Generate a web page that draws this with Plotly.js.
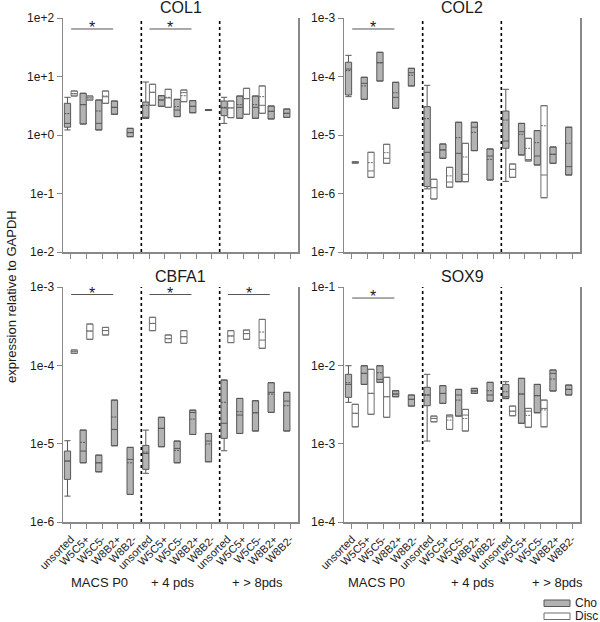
<!DOCTYPE html>
<html><head><meta charset="utf-8">
<script src="https://cdn.plot.ly/plotly-3.0.1.min.js"></script>
<style>html,body{margin:0;padding:0;background:#fff}#chart{width:600px;height:622px}</style>
</head><body><div id="chart"></div><script>
const categories = ['unsorted','W5C5+','W5C5-','W8B2+','W8B2-'];
const groupLabels = ['MACS P0','+ 4 pds','+ > 8pds'];
const panelTitles = ['COL1','COL2','CBFA1','SOX9'];
const seriesNames = ['Cho','Disc'];
const choX = [0,1,2,3,4,5,6,7,8,9,10,11,12,13,14];
const discX = [0,1,2,5,6,7,10,11,12];

// rows: [lower whisker, q1, median, q3, upper whisker, mean]
const col1Cho = [
 [1.22,1.36,1.58,3.48,4.41,2.32],[1.54,1.54,3.3,5.16,5.16,3.3],[1.22,1.22,1.58,3.96,3.96,2.57],
 [2.26,2.26,2.97,3.81,3.81,2.97],[0.935,0.935,1.1,1.30,1.30,1.1],
 [1.93,1.93,1.95,3.66,8.05,3.22],[3.09,3.09,3.96,4.7,4.7,3.96],[2.06,2.06,2.67,4.07,4.07,3.05],
 [2.4,2.4,3.09,3.87,3.87,3.09],[2.62,2.62,2.67,2.72,2.72,2.67],
 [1.58,2.14,2.9,3.81,4.41,2.97],[1.93,1.93,2.97,4.64,4.64,3.3],[1.93,1.93,2.97,4.64,4.64,3.3],
 [1.88,1.88,2.54,3.13,3.13,2.54],[2.0,2.0,2.35,2.78,2.78,2.35]];
const col1Disc = [
 [4.64,4.64,5.08,5.65,5.65,5.08],[3.96,3.96,4.3,4.64,4.64,4.3],[3.48,3.48,4.5,5.65,5.65,4.64],
 [3.22,3.22,5.37,7.36,7.36,5.37],[2.97,2.97,4.3,6.04,6.04,4.41],[3.71,3.71,5.3,5.87,5.87,4.7],
 [1.98,1.98,2.9,3.81,3.81,2.9],[2.26,2.26,4.17,6.28,6.28,4.2],[2.35,2.35,3.22,6.89,6.89,4.52]];

const col2Cho = [
 [4.52e-5,4.83e-5,1.34e-4,1.75e-4,2.3e-4,1.26e-4],[4.07e-5,4.07e-5,7.64e-5,9.7e-5,9.7e-5,6.9e-5],
 [8.37e-5,8.37e-5,1.72e-4,2.59e-4,2.59e-4,1.72e-4],[2.86e-5,2.86e-5,4.4e-5,7.96e-5,7.96e-5,5.28e-5],
 [6.89e-5,6.89e-5,1.16e-4,1.38e-4,1.38e-4,1.05e-4],
 [1.2e-6,1.31e-6,5.06e-6,3.05e-5,7.07e-5,1.9e-5],[4.0e-6,4.0e-6,5.55e-6,7.02e-6,7.02e-6,5.55e-6],
 [1.59e-6,1.59e-6,4.86e-6,1.65e-5,1.65e-5,9.0e-6],[5.4e-6,5.4e-6,1.36e-5,1.65e-5,1.65e-5,1.11e-5],
 [1.7e-6,1.7e-6,4.37e-6,5.77e-6,5.77e-6,3.84e-6],
 [1.61e-6,5.93e-6,7.89e-6,2.57e-5,6.04e-5,1.8e-5],[4.55e-6,4.55e-6,1.14e-5,1.58e-5,1.58e-5,1.03e-5],
 [3.07e-6,3.07e-6,4.37e-6,1.19e-5,1.19e-5,7.39e-6],[3.28e-6,3.28e-6,4.67e-6,6.24e-6,6.24e-6,4.67e-6],
 [2.07e-6,2.07e-6,2.88e-6,1.36e-5,1.36e-5,7.21e-6]];
const col2Disc = [
 [3.3e-6,3.3e-6,3.4e-6,3.5e-6,3.5e-6,3.4e-6],[1.89e-6,1.89e-6,2.43e-6,5.06e-6,5.06e-6,3.37e-6],
 [3.28e-6,3.28e-6,4.0e-6,6.93e-6,6.93e-6,4.99e-6],[8.05e-7,8.05e-7,1.26e-6,1.75e-6,1.75e-6,1.26e-6],
 [1.28e-6,1.28e-6,1.57e-6,2.8e-6,2.8e-6,2.0e-6],[1.59e-6,1.59e-6,2.13e-6,7.2e-6,7.2e-6,4.21e-6],
 [1.89e-6,1.89e-6,2.59e-6,3.19e-6,3.19e-6,2.59e-6],[3.6e-6,3.6e-6,3.8e-6,8.77e-6,8.77e-6,5.93e-6],
 [8.47e-7,8.47e-7,2.07e-6,3.17e-5,3.17e-5,1.44e-5]];

const cbfa1Cho = [
 [2.14e-6,3.5e-6,6.0e-6,8.05e-6,1.09e-5,6.0e-6],[5.7e-6,5.7e-6,8.05e-6,1.49e-5,1.49e-5,1.04e-5],
 [4.37e-6,4.37e-6,5.7e-6,7.14e-6,7.14e-6,5.7e-6],[9.4e-6,9.4e-6,1.52e-5,3.6e-5,3.6e-5,2.19e-5],
 [2.25e-6,2.25e-6,6.3e-6,8.97e-6,8.97e-6,5.7e-6],
 [4.18e-6,4.7e-6,7.5e-6,9.5e-6,1.49e-5,7.8e-6],[9.14e-6,9.14e-6,1.57e-5,2.17e-5,2.17e-5,1.57e-5],
 [5.7e-6,5.7e-6,8.7e-6,1.08e-5,1.08e-5,8.2e-6],[1.31e-5,1.31e-5,2.5e-5,2.68e-5,2.68e-5,2.06e-5],
 [5.87e-6,5.87e-6,1.08e-5,1.35e-5,1.35e-5,9.9e-6],
 [8.12e-6,1.17e-5,1.82e-5,6.49e-5,6.49e-5,3.37e-5],[1.35e-5,1.35e-5,2.32e-5,3.78e-5,3.78e-5,2.56e-5],
 [1.45e-5,1.45e-5,2.48e-5,3.53e-5,3.53e-5,2.48e-5],[2.51e-5,2.51e-5,4.52e-5,6.0e-5,6.0e-5,4.3e-5],
 [1.45e-5,1.45e-5,3.5e-5,4.52e-5,4.52e-5,3.05e-5]];
const cbfa1Disc = [
 [1.42e-4,1.42e-4,1.49e-4,1.57e-4,1.57e-4,1.49e-4],[2.15e-4,2.15e-4,2.74e-4,3.37e-4,3.37e-4,2.74e-4],
 [2.44e-4,2.44e-4,2.78e-4,3.05e-4,3.05e-4,2.78e-4],[2.77e-4,2.77e-4,3.43e-4,4.1e-4,4.1e-4,3.43e-4],
 [1.95e-4,1.95e-4,2.19e-4,2.44e-4,2.44e-4,2.19e-4],[1.91e-4,1.91e-4,2.32e-4,2.77e-4,2.77e-4,2.32e-4],
 [1.95e-4,1.95e-4,2.37e-4,2.77e-4,2.77e-4,2.37e-4],[2.15e-4,2.15e-4,2.54e-4,2.82e-4,2.82e-4,2.54e-4],
 [1.65e-4,1.65e-4,2.1e-4,3.86e-4,3.86e-4,2.66e-4]];

const sox9Cho = [
 [3.37e-3,3.9e-3,5.71e-3,7.68e-3,9.88e-3,6.0e-3],[5.71e-3,5.71e-3,7.9e-3,9.88e-3,9.88e-3,7.9e-3],
 [6.07e-3,6.07e-3,6.62e-3,9.88e-3,9.88e-3,8.05e-3],[3.97e-3,3.97e-3,4.3e-3,4.74e-3,4.74e-3,4.3e-3],
 [3.02e-3,3.02e-3,3.68e-3,4.18e-3,4.18e-3,3.68e-3],
 [1.08e-3,3.05e-3,4.18e-3,5.24e-3,7.68e-3,4.18e-3],[3.27e-3,3.27e-3,4.38e-3,5.5e-3,5.5e-3,4.38e-3],
 [2.25e-3,2.25e-3,4.18e-3,4.93e-3,4.93e-3,3.6e-3],[4.38e-3,4.38e-3,4.7e-3,5.08e-3,5.08e-3,4.7e-3],
 [3.5e-3,3.5e-3,4.18e-3,6.07e-3,6.07e-3,4.74e-3],
 [3.75e-3,3.79e-3,3.97e-3,5.71e-3,6.18e-3,4.6e-3],[1.82e-3,1.82e-3,4.3e-3,6.82e-3,6.82e-3,4.3e-3],
 [2.48e-3,2.48e-3,4.1e-3,5.71e-3,5.71e-3,4.1e-3],[4.7e-3,4.7e-3,7.9e-3,8.71e-3,8.71e-3,6.68e-3],
 [4.18e-3,4.18e-3,4.93e-3,5.6e-3,5.6e-3,4.93e-3]];
const sox9Disc = [
 [1.64e-3,1.64e-3,2.44e-3,3.18e-3,3.18e-3,2.44e-3],[2.37e-3,2.37e-3,4.38e-3,8.9e-3,8.9e-3,4.4e-3],
 [2.17e-3,2.17e-3,3.97e-3,7.03e-3,7.03e-3,3.97e-3],[1.9e-3,1.9e-3,2.1e-3,2.25e-3,2.25e-3,2.1e-3],
 [1.52e-3,1.52e-3,2.2e-3,2.32e-3,2.32e-3,2.0e-3],[1.45e-3,1.45e-3,2.32e-3,2.74e-3,2.74e-3,2.1e-3],
 [2.27e-3,2.27e-3,2.6e-3,3.02e-3,3.02e-3,2.6e-3],[1.62e-3,1.62e-3,2.6e-3,2.82e-3,2.82e-3,2.3e-3],
 [1.64e-3,1.64e-3,2.82e-3,3.6e-3,3.6e-3,2.7e-3]];

const yTickVals = [[1e-2,1e-1,1e0,1e1,1e2],[1e-7,1e-6,1e-5,1e-4,1e-3],[1e-6,1e-5,1e-4,1e-3],[1e-4,1e-3,1e-2,1e-1]];
const yTickText = [['1e-2','1e-1','1e+0','1e+1','1e+2'],['1e-7','1e-6','1e-5','1e-4','1e-3'],['1e-6','1e-5','1e-4','1e-3'],['1e-4','1e-3','1e-2','1e-1']];
const yRanges = [[-2,2],[-7,-3],[-6,-3],[-4,-1]];
// significance markers: [panel, group]
const sigMarks = [[0,0],[0,1],[1,0],[2,0],[2,1],[2,2],[3,0]];

const choData = [col1Cho, col2Cho, cbfa1Cho, sox9Cho];
const discData = [col1Disc, col2Disc, cbfa1Disc, sox9Disc];

const FONT = 'Liberation Sans, Arial, sans-serif';
const CHO_FILL = '#b3b3b3', CHO_LINE = '#575757';
const DISC_FILL = '#ffffff', DISC_LINE = '#6e6e6e';
const BOX_W = 0.4, BOX_SHIFT = 0.215;

function boxTrace(rows, xs, p, name, fill, line, shift) {
  const s = p === 0 ? '' : String(p + 1);
  return {
    type: 'box', name: name, xaxis: 'x' + s, yaxis: 'y' + s,
    x: xs.map(v => v + shift), width: BOX_W,
    lowerfence: rows.map(r => r[0]), q1: rows.map(r => r[1]), median: rows.map(r => r[2]),
    q3: rows.map(r => r[3]), upperfence: rows.map(r => r[4]), mean: rows.map(r => r[5]),
    boxmean: true, boxpoints: false, whiskerwidth: 1,
    fillcolor: fill, line: {color: line, width: 1},
    showlegend: false, hoverinfo: 'skip'
  };
}

const traces = [];
for (let p = 0; p < 4; p++) {
  traces.push(boxTrace(choData[p], choX, p, seriesNames[0], CHO_FILL, CHO_LINE, -BOX_SHIFT));
  traces.push(boxTrace(discData[p], discX, p, seriesNames[1], DISC_FILL, DISC_LINE, BOX_SHIFT));
}

const tickText = [].concat(categories, categories, categories);
const tickVals = tickText.map((_, i) => i);
const xDomains = [[63/600, 298/600],[344/600, 580/600]];
const yDomains = [[1-252/622, 1-18/622],[1-522/622, 1-287/622]];

const layout = {
  width: 600, height: 622, margin: {l:0, r:0, t:0, b:0},
  paper_bgcolor: '#fff', plot_bgcolor: '#fff',
  font: {family: FONT, size: 12, color: '#1a1a1a'},
  boxmode: 'overlay',
  showlegend: false, shapes: [], annotations: []
};

for (let p = 0; p < 4; p++) {
  const s = p === 0 ? '' : String(p + 1);
  const col = p % 2, row = Math.floor(p / 2);
  layout['xaxis' + s] = {
    domain: xDomains[col], anchor: 'y' + s, range: [-0.5, 14.5],
    tickvals: tickVals, ticktext: tickText, tickangle: -45,
    showticklabels: row === 1, ticks: 'outside', ticklen: 5, tickcolor: '#888', tickwidth: 1,
    showline: true, linecolor: '#888', linewidth: 1.5, showgrid: false, zeroline: false,
    tickfont: {size: 11, family: FONT, color: '#1a1a1a'}, fixedrange: true
  };
  layout['yaxis' + s] = {
    domain: yDomains[row], anchor: 'x' + s, type: 'log', range: yRanges[p],
    tickvals: yTickVals[p], ticktext: yTickText[p],
    ticks: 'outside', ticklen: 5, tickcolor: '#888', tickwidth: 1,
    showline: true, mirror: true, linecolor: '#888', linewidth: 1.5,
    showgrid: false, zeroline: false,
    tickfont: {size: 12, family: FONT, color: '#1a1a1a'}, fixedrange: true
  };
  [4.5, 9.5].forEach(xv => layout.shapes.push({
    type: 'line', xref: 'x' + s, yref: 'y' + s + ' domain', x0: xv, x1: xv, y0: 0, y1: 1,
    line: {color: '#000', width: 1.6, dash: 'dot'}
  }));
  layout.annotations.push({
    text: panelTitles[p], xref: 'x' + s + ' domain', yref: 'y' + s + ' domain',
    x: 0.5, y: 1, yanchor: 'bottom', xanchor: 'center', showarrow: false,
    font: {size: 16, family: FONT, color: '#1a1a1a'}
  });
}

sigMarks.forEach(([p, g]) => {
  const s = p === 0 ? '' : String(p + 1);
  const yv = p === 2 ? 0.968 : 0.953;
  layout.shapes.push({
    type: 'line', xref: 'x' + s, yref: 'y' + s + ' domain', x0: g * 5 + 0.02, x1: g * 5 + 2.7,
    y0: yv, y1: yv, line: {color: '#555', width: 1}
  });
  layout.annotations.push({
    text: '*', xref: 'x' + s, yref: 'y' + s + ' domain', x: g * 5 + 1.35, y: yv,
    xanchor: 'center', yanchor: 'bottom', yshift: -9, showarrow: false,
    font: {size: 16, family: FONT, color: '#1a1a1a'}
  });
});

const groupLabelX = [[99, 173, 257], [376, 473, 557]];
groupLabelX.forEach(xs => xs.forEach((xv, i) => layout.annotations.push({
  text: groupLabels[i], xref: 'paper', yref: 'paper', x: xv / 600, y: 1 - 582 / 622,
  xanchor: 'center', yanchor: 'middle', showarrow: false,
  font: {size: 13, family: FONT, color: '#1a1a1a'}
})));

layout.annotations.push({
  text: 'expression relative to GAPDH', xref: 'paper', yref: 'paper', x: 11 / 600, y: 1 - 297 / 622,
  textangle: -90, xanchor: 'center', yanchor: 'middle', showarrow: false,
  font: {size: 13, family: FONT, color: '#1a1a1a'}
});

[[CHO_FILL, CHO_LINE, 600, seriesNames[0]], [DISC_FILL, DISC_LINE, 613, seriesNames[1]]].forEach(([f, l, top, name]) => {
  layout.shapes.push({
    type: 'rect', xref: 'paper', yref: 'paper', x0: 544 / 600, x1: 570 / 600,
    y0: 1 - (top + 6.5) / 622, y1: 1 - top / 622, fillcolor: f, line: {color: l, width: 1}
  });
  layout.annotations.push({
    text: name, xref: 'paper', yref: 'paper', x: 574 / 600, y: 1 - (top + 3.3) / 622,
    xanchor: 'left', yanchor: 'middle', showarrow: false, borderpad: 0,
    font: {size: 12, family: FONT, color: '#1a1a1a'}
  });
});

Plotly.newPlot('chart', traces, layout, {staticPlot: true, displayModeBar: false});
</script></body></html>
